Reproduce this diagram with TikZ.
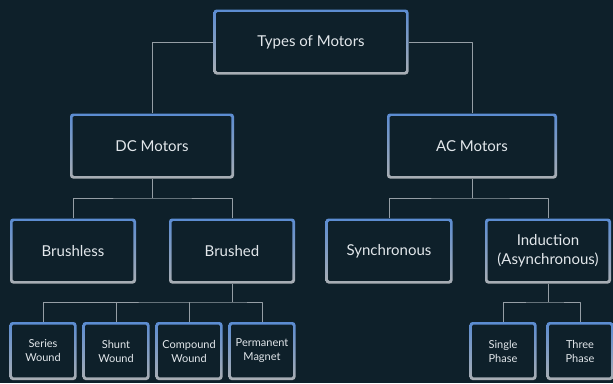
\documentclass[tikz,border=0pt]{standalone}
\usepackage{fontspec}
\setmainfont{Lato}
\definecolor{bgcol}{HTML}{0E202A}
\definecolor{edgetop}{HTML}{5B8CD2}
\definecolor{edgebot}{HTML}{A9AEB3}
\definecolor{wirecol}{HTML}{959EA5}
\definecolor{txtcol}{HTML}{E2E7EB}
\begin{document}
\begin{tikzpicture}[x=1pt, y=-1pt, line join=round]
    % Gaya kotak dengan tepi bergradasi
    \tikzset{
      motorbox/.style={rectangle, rounded corners=3pt, inner sep=0pt,
        top color=edgetop, bottom color=edgebot, text=txtcol, align=center,
        path picture={\fill[bgcol, rounded corners=1.5pt]
          ([shift={(2.6pt,2.6pt)}]path picture bounding box.south west) rectangle
          ([shift={(-2.6pt,-2.6pt)}]path picture bounding box.north east);}},
      bigbox/.style={motorbox, minimum width=#1, minimum height=65pt, font=\fontsize{15}{19}\selectfont},
      smallbox/.style={motorbox, minimum width=67pt, minimum height=58pt, font=\fontsize{11}{14}\selectfont},
      wire/.style={draw=wirecol, line width=0.9pt}
    }

    % Latar belakang
    \fill[bgcol] (0,0) rectangle (613,383);
    \useasboundingbox (0,0) rectangle (613,383);

    % Tingkat atas
    \node[bigbox=195pt] (types) at (311,42) {Types of Motors};
    \node[bigbox=164pt] (dc) at (152,146) {DC Motors};
    \node[bigbox=170pt] (ac) at (472,146) {AC Motors};

    % Jenis motor DC dan AC
    \node[bigbox=126pt] (brushless) at (73,251) {Brushless};
    \node[bigbox=126pt] (brushed) at (232,251) {Brushed};
    \node[bigbox=127pt] (sync) at (389,251) {Synchronous};
    \node[bigbox=126pt] (induct) at (548,251) {Induction\\(Asynchronous)};

    % Tingkat bawah
    \node[smallbox] (series) at (43,351) {Series\\Wound};
    \node[smallbox] (shunt) at (116,351) {Shunt\\Wound};
    \node[smallbox] (compound) at (189,351) {Compound\\Wound};
    \node[smallbox] (magnet) at (262,351) {Permanent\\Magnet};
    \node[smallbox] (single) at (503,351) {Single\\Phase};
    \node[smallbox] (three) at (580,351) {Three\\Phase};

    % Titik percabangan
    \coordinate (dcj) at (152,198);
    \coordinate (acj) at (472,198);
    \coordinate (brj) at (232,302);
    \coordinate (inj) at (548,302);

    % Penghubung
    \path[wire] (types.west) -| (dc.north);
    \path[wire] (types.east) -| (ac.north);
    \path[wire] (dc.south) -- (dcj);
    \path[wire] (brushless.north) |- (dcj) -| (brushed.north);
    \path[wire] (ac.south) -- (acj);
    \path[wire] (sync.north) |- (acj) -| (induct.north);
    \path[wire] (brushed.south) -- (brj);
    \path[wire] (series.north) |- (brj) -| (magnet.north);
    \path[wire] (shunt.north) -- (shunt.north |- brj);
    \path[wire] (compound.north) -- (compound.north |- brj);
    \path[wire] (induct.south) -- (inj);
    \path[wire] (single.north) |- (inj) -| (three.north);
\end{tikzpicture}
\end{document}
